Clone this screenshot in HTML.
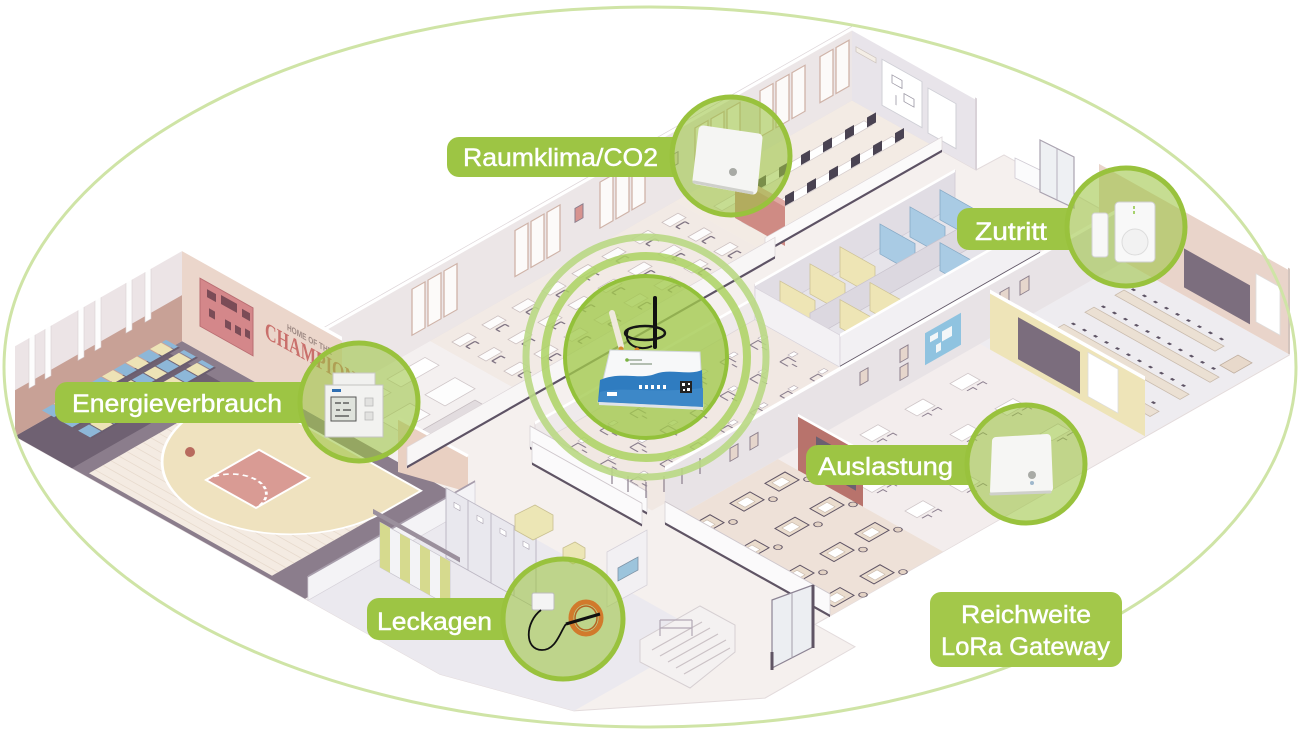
<!DOCTYPE html>
<html><head><meta charset="utf-8"><title>LoRa Gateway Reichweite</title>
<style>
html{margin:0;padding:0;width:1300px;height:732px;overflow:hidden;background:#fff}
body{margin:0;padding:0;width:1300px;height:732px;overflow:hidden;position:relative;background:#fff}
svg{position:absolute;left:0;top:0;display:block;overflow:hidden}
.lb{font-family:"Liberation Sans",Arial,sans-serif;font-size:25px;fill:#fff;stroke:#fff;stroke-width:0.45}
</style></head><body>
<svg width="1300" height="732" viewBox="0 0 1300 732" xmlns="http://www.w3.org/2000/svg">
<defs>
 <pattern id="seat" width="24" height="40" patternUnits="userSpaceOnUse">
  <rect x="0" y="0" width="11" height="40" fill="#8db7d8"/>
  <rect x="12" y="0" width="11" height="40" fill="#ede3b6"/>
 </pattern>
 <g id="dk"><rect x="0" y="0" width="16" height="8" fill="#fdfcfc" stroke="#cbbfbf" stroke-width="0.8"/><path d="M3,11h9M3,11v4M12,11v4" stroke="#7f7382" stroke-width="1.3" fill="none"/></g>
 <g id="ch"><path d="M0,0h8v8M0,0v8M4,8v5" stroke="#8a7e8d" stroke-width="1.1" fill="none"/><rect x="10" y="-2" width="6" height="4" fill="#fff" stroke="#b8adb5" stroke-width="0.6"/></g>
 <g id="ad"><rect x="0" y="0" width="20" height="14" fill="#eadccd" stroke="#5f5465" stroke-width="1"/><rect x="4" y="3" width="10" height="8" fill="#fff" stroke="#c9b9ab" stroke-width="0.6"/><circle cx="25" cy="18" r="3" fill="#e3d2c4" stroke="#5f5465" stroke-width="0.8"/></g>
 <g id="wt"><rect x="0" y="0" width="18" height="12" fill="#fff" stroke="#cfc6c8" stroke-width="0.8"/><path d="M2,15h6v4M12,15h6v4" stroke="#8d8090" stroke-width="1" fill="none"/></g>
</defs>
<rect width="1300" height="732" fill="#fff"/>

<!-- ================= FLOOR (screen coords) ================= -->
<polygon points="15,436.3 182,341.1 307,411.1 852,100.5 976,170 1004,154.9 1135,228.3 1099,248.8 1289,355.2 815,624.4 855,646.8 765,698.1 574,710.9 440,674.3" fill="#f5f0ee" stroke="#e3dbdc" stroke-width="1"/>
<polygon points="308,600.4 475,505.2 707,635.1 574,710.9 440,674.3" fill="#ebe9ef"/>

<!-- gym floor -->
<g transform="matrix(1,-0.57,1,0.56,330,398)">
 <rect x="-190" y="-125" width="167" height="290" fill="#8b7d8c"/>
 <rect x="-186" y="-55" width="149" height="183" fill="#f4ebe2"/>
 <path d="M-180,-55V128M-172,-55V128M-164,-55V128M-156,-55V128M-148,-55V128M-140,-55V128M-132,-55V128M-124,-55V128M-116,-55V128M-108,-55V128M-100,-55V128M-92,-55V128M-84,-55V128M-76,-55V128M-68,-55V128M-60,-55V128M-52,-55V128M-44,-55V128" stroke="#e7dacd" stroke-width="0.8"/>
 <path d="M-37,-55 L-75,-55 A91.5,91.5 0 0 0 -75,128 L-37,128 Z" fill="#efe2bf" stroke="#fff" stroke-width="2"/>
 <rect x="-134" y="10" width="53" height="50" fill="#d99b94" stroke="#fff" stroke-width="2"/>
 <path d="M-134,10 A25,25 0 0 1 -134,60" fill="none" stroke="#fff" stroke-width="2" stroke-dasharray="4,3"/>
 <rect x="-190" y="-125" width="150" height="57" fill="#6f6172"/>
</g>

<!-- rooms floor -->
<g transform="matrix(1,-0.57,1,0.56,330,398)">
 <rect x="-23" y="0" width="123" height="100" fill="#f4f0f0"/>
 <rect x="100" y="0" width="245" height="100" fill="#f2eae5"/>
 <rect x="345" y="0" width="177" height="90" fill="#f3ebe4"/>
 <rect x="60" y="145" width="220" height="117" fill="#f1e8e3"/>
 <rect x="280" y="145" width="200" height="85" fill="#e6e4ea"/>
 <rect x="55" y="280" width="113" height="165" fill="#eee1d8"/>
 <rect x="168" y="280" width="202" height="165" fill="#f3eded"/>
 <rect x="370" y="280" width="144" height="165" fill="#eeecf0"/>
 <!-- library shelves -->
 <rect x="-5" y="12" width="40" height="14" fill="#fff" stroke="#d3cacc" stroke-width="0.8"/>
 <rect x="45" y="12" width="38" height="14" fill="#fff" stroke="#d3cacc" stroke-width="0.8"/>
 <rect x="5" y="45" width="30" height="20" fill="#fdfdfd" stroke="#cfc6c8" stroke-width="0.8"/>
 <rect x="50" y="45" width="30" height="20" fill="#fdfdfd" stroke="#cfc6c8" stroke-width="0.8"/>
 <rect x="10" y="75" width="60" height="10" fill="#e2dcdf" stroke="#c4bbbf" stroke-width="0.8"/>
 <!-- classroom desks -->
 <use href="#dk" x="110" y="12"/><use href="#dk" x="140" y="12"/><use href="#dk" x="170" y="12"/><use href="#dk" x="200" y="12"/><use href="#dk" x="230" y="12"/><use href="#dk" x="260" y="12"/><use href="#dk" x="290" y="12"/><use href="#dk" x="320" y="12"/>
 <use href="#dk" x="110" y="38"/><use href="#dk" x="140" y="38"/><use href="#dk" x="170" y="38"/><use href="#dk" x="200" y="38"/><use href="#dk" x="230" y="38"/><use href="#dk" x="260" y="38"/><use href="#dk" x="290" y="38"/><use href="#dk" x="320" y="38"/>
 <use href="#dk" x="110" y="64"/><use href="#dk" x="140" y="64"/><use href="#dk" x="170" y="64"/><use href="#dk" x="200" y="64"/><use href="#dk" x="230" y="64"/><use href="#dk" x="260" y="64"/><use href="#dk" x="290" y="64"/><use href="#dk" x="320" y="64"/>
 <!-- computer room desks -->
 <rect x="360" y="24" width="150" height="8" fill="#fff" stroke="#d6cdcd" stroke-width="0.8"/>
 <rect x="360" y="52" width="150" height="8" fill="#fff" stroke="#d6cdcd" stroke-width="0.8"/>
 <!-- music room -->
 <use href="#ch" x="75" y="165"/><use href="#ch" x="105" y="165"/><use href="#ch" x="135" y="165"/><use href="#ch" x="165" y="165"/><use href="#ch" x="195" y="165"/><use href="#ch" x="225" y="165"/><use href="#ch" x="255" y="165"/>
 <use href="#ch" x="75" y="195"/><use href="#ch" x="105" y="195"/><use href="#ch" x="135" y="195"/><use href="#ch" x="165" y="195"/><use href="#ch" x="195" y="195"/><use href="#ch" x="225" y="195"/><use href="#ch" x="255" y="195"/>
 <use href="#ch" x="75" y="225"/><use href="#ch" x="105" y="225"/><use href="#ch" x="135" y="225"/><use href="#ch" x="165" y="225"/><use href="#ch" x="195" y="225"/><use href="#ch" x="225" y="225"/><use href="#ch" x="255" y="225"/>
 <!-- art room -->
 <use href="#ad" x="65" y="295"/><use href="#ad" x="105" y="295"/><use href="#ad" x="140" y="295"/>
 <use href="#ad" x="65" y="340"/><use href="#ad" x="105" y="340"/><use href="#ad" x="140" y="340"/>
 <use href="#ad" x="65" y="385"/><use href="#ad" x="105" y="385"/><use href="#ad" x="140" y="385"/>
 <use href="#ad" x="65" y="425"/><use href="#ad" x="105" y="425"/>
 <!-- middle room -->
 <use href="#wt" x="185" y="300"/><use href="#wt" x="230" y="300"/><use href="#wt" x="275" y="300"/><use href="#wt" x="320" y="300"/>
 <use href="#wt" x="185" y="345"/><use href="#wt" x="230" y="345"/><use href="#wt" x="275" y="345"/><use href="#wt" x="320" y="345"/>
 <use href="#wt" x="185" y="390"/><use href="#wt" x="230" y="390"/><use href="#wt" x="275" y="390"/><use href="#wt" x="320" y="390"/>
 <!-- right classroom tables -->
 <rect x="390" y="305" width="9" height="125" fill="#ebe0d3" stroke="#c9bbad" stroke-width="0.8"/>
 <rect x="420" y="305" width="9" height="125" fill="#ebe0d3" stroke="#c9bbad" stroke-width="0.8"/>
 <rect x="450" y="305" width="9" height="125" fill="#ebe0d3" stroke="#c9bbad" stroke-width="0.8"/>
 <rect x="480" y="305" width="9" height="100" fill="#ebe0d3" stroke="#c9bbad" stroke-width="0.8"/>
 <path d="M404,308V428M434,308V428M464,308V428M494,308V405" stroke="#5e5465" stroke-width="2.2" stroke-dasharray="3,8"/>
 <rect x="470" y="420" width="18" height="14" fill="#e8d9cb" stroke="#bfae9f" stroke-width="0.8"/>
</g>

<!-- ================= WALLS ================= -->
<!-- gym back wall -->
<g transform="matrix(1,-0.57,0,1,205,328)">
 <rect x="-190" y="-92" width="167" height="92" fill="#c8a196"/>
 <rect x="-190" y="-92" width="167" height="46" fill="#ece4e6"/>
 <g fill="#fdfdfd" stroke="#d9d0d3" stroke-width="0.6">
  <rect x="-176" y="-92" width="6" height="52"/><rect x="-160" y="-92" width="6" height="52"/>
  <rect x="-127" y="-92" width="6" height="52"/><rect x="-110" y="-92" width="6" height="52"/>
  <rect x="-79" y="-92" width="6" height="52"/><rect x="-60" y="-92" width="6" height="52"/>
 </g>
 <line x1="-190" y1="-92" x2="-23" y2="-92" stroke="#fff" stroke-width="4"/>
</g>
<!-- raised bleacher seats -->
<g transform="translate(0,-16)">
 <g transform="matrix(1,-0.57,1,0.56,330,398)">
  <rect x="-168" y="-120" width="124" height="13" fill="url(#seat)"/>
  <rect x="-168" y="-102" width="124" height="13" fill="url(#seat)"/>
  <rect x="-168" y="-84" width="124" height="13" fill="url(#seat)"/>
  <path d="M-168,-107H-44M-168,-89H-44M-168,-71H-44" stroke="#6a5d6f" stroke-width="2"/>
 </g>
</g>
<g transform="matrix(1,-0.57,0,1,330,398)">
 <!-- long back wall -->
 <rect x="-23" y="-72" width="545" height="72" fill="#ece6e7"/>
 <g fill="#fcfaf9" stroke="#cfb3a8" stroke-width="1.3">
  <rect x="82" y="-62" width="13" height="46"/><rect x="98" y="-62" width="13" height="46"/><rect x="114" y="-62" width="13" height="46"/>
  <rect x="185" y="-62" width="13" height="46"/><rect x="201" y="-62" width="13" height="46"/><rect x="217" y="-62" width="13" height="46"/>
  <rect x="270" y="-62" width="13" height="46"/><rect x="286" y="-62" width="13" height="46"/><rect x="302" y="-62" width="13" height="46"/>
  <rect x="365" y="-62" width="13" height="46"/><rect x="381" y="-62" width="13" height="46"/><rect x="397" y="-62" width="13" height="46"/>
  <rect x="430" y="-62" width="13" height="46"/><rect x="446" y="-62" width="13" height="46"/><rect x="462" y="-62" width="13" height="46"/>
  <rect x="490" y="-62" width="13" height="46"/><rect x="506" y="-62" width="13" height="46"/>
 </g>
 <rect x="245" y="-50" width="8" height="14" fill="#d7938f" stroke="#8a7d8c" stroke-width="1"/>
 <rect x="340" y="-48" width="8" height="12" fill="#e3d6c8" stroke="#8a7d8c" stroke-width="1"/>
 <line x1="-23" y1="-72" x2="522" y2="-72" stroke="#fff" stroke-width="4"/>
 <line x1="-23" y1="-74" x2="522" y2="-74" stroke="#ddd5d8" stroke-width="0.8"/>
</g>
<!-- gym right wall -->
<g transform="matrix(1,0.56,0,1,307,411.11)">
 <rect x="-125" y="-92" width="160" height="92" fill="#ebd6cb"/>
 <rect x="-107" y="-73" width="53" height="48" fill="#d4878a" stroke="#b96d72" stroke-width="1"/>
 <g fill="#7b4c57"><rect x="-100" y="-66" width="9" height="8"/><rect x="-86" y="-68" width="16" height="9"/><rect x="-65" y="-66" width="8" height="8"/><rect x="-98" y="-48" width="6" height="8"/><rect x="-82" y="-46" width="6" height="8"/><rect x="-72" y="-46" width="6" height="8"/><rect x="-62" y="-48" width="5" height="8"/></g>
 <text x="-20" y="-70" font-family="Liberation Sans,sans-serif" font-weight="bold" font-size="9" fill="#9e8a84" textLength="45" lengthAdjust="spacingAndGlyphs">HOME OF THE</text>
 <text x="-42" y="-50" font-family="Liberation Serif,serif" font-weight="bold" font-size="24" fill="#c96f6b" textLength="100" lengthAdjust="spacingAndGlyphs">CHAMPIONS</text>
 <line x1="-125" y1="-92" x2="35" y2="-92" stroke="#fff" stroke-width="4"/>
</g>
<!-- lobby beige wall right of gym -->
<polygon points="398,418 468,456 468,492 398,472" fill="#e9d0c2"/>
<line x1="398" y1="418" x2="468" y2="456" stroke="#fff" stroke-width="3"/>
<!-- computer room right wall -->
<g transform="matrix(1,0.56,0,1,852,100.46)">
 <rect x="0" y="-72" width="124" height="72" fill="#e8e4ea"/>
 <rect x="30" y="-58" width="40" height="46" fill="#fff" stroke="#cfcfd6" stroke-width="1"/>
 <path d="M40,-48h10v8h-10zM52,-36h10v8h-10zM44,-30v10" stroke="#9a96a3" stroke-width="0.8" fill="none"/>
 <rect x="76" y="-55" width="28" height="45" fill="#fff" stroke="#cfcfd6" stroke-width="1"/>
 <rect x="4" y="-56" width="20" height="5" fill="#f4eee6" stroke="#cfc6c0" stroke-width="0.8"/>
 <line x1="0" y1="-72" x2="124" y2="-72" stroke="#fff" stroke-width="4"/>
 <line x1="124" y1="-72" x2="124" y2="0" stroke="#d9d2d8" stroke-width="2"/>
</g>
<!-- monitors -->
<g transform="matrix(1,-0.57,0,1,365,417.6)" fill="#4a4352">
 <rect x="370" y="-14" width="9" height="10"/><rect x="392" y="-14" width="9" height="10"/><rect x="414" y="-14" width="9" height="10"/><rect x="436" y="-14" width="9" height="10"/><rect x="458" y="-14" width="9" height="10"/><rect x="480" y="-14" width="9" height="10"/><rect x="502" y="-14" width="9" height="10"/>
</g>
<g transform="matrix(1,-0.57,0,1,393,433.28)" fill="#4a4352">
 <rect x="370" y="-14" width="9" height="10"/><rect x="392" y="-14" width="9" height="10"/><rect x="414" y="-14" width="9" height="10"/><rect x="436" y="-14" width="9" height="10"/><rect x="458" y="-14" width="9" height="10"/><rect x="480" y="-14" width="9" height="10"/><rect x="502" y="-14" width="9" height="10"/>
</g>
<!-- pink partition -->
<g transform="matrix(1,0.56,0,1,690,192.8)">
 <rect x="45" y="-45" width="50" height="45" fill="#cf8b84"/>
 <rect x="45" y="-45" width="50" height="6" fill="#e0a9a2"/>
</g>
<!-- computer room front wall -->
<g transform="matrix(1,-0.57,0,1,420,448.4)">
 <rect x="345" y="-14" width="177" height="14" fill="#fbfafa" stroke="#ddd6d9" stroke-width="0.8"/>
 <line x1="345" y1="0" x2="522" y2="0" stroke="#5d5264" stroke-width="2.5"/>
</g>
<!-- classroom 1 front wall -->
<g transform="matrix(1,-0.57,0,1,430,454)">
 <rect x="-23" y="-20" width="368" height="20" fill="#f8f6f6" stroke="#ddd6d9" stroke-width="0.8"/>
 <line x1="-23" y1="0" x2="345" y2="0" stroke="#5e5365" stroke-width="2.5"/>
</g>
<!-- music + toilet back walls -->
<g transform="matrix(1,-0.57,0,1,475,479.2)">
 <rect x="60" y="-22" width="220" height="22" fill="#efeaeb" stroke="#dcd4d7" stroke-width="0.8"/>
 <rect x="280" y="-35" width="200" height="35" fill="#e1dde4" stroke="#cfc9d3" stroke-width="0.8"/>
 <line x1="60" y1="-22" x2="280" y2="-22" stroke="#fff" stroke-width="3"/>
 <line x1="280" y1="-35" x2="480" y2="-35" stroke="#fff" stroke-width="3"/>
</g>
<!-- toilet stalls -->
<g transform="matrix(1,0.56,0,1,630,227)"><rect x="150" y="-30" width="35" height="30" fill="#eee5b5" stroke="#cdc296" stroke-width="0.8"/></g>
<g transform="matrix(1,0.56,0,1,660,209.9)"><rect x="150" y="-30" width="35" height="30" fill="#eee5b5" stroke="#cdc296" stroke-width="0.8"/></g>
<g transform="matrix(1,0.56,0,1,690,192.8)"><rect x="150" y="-30" width="35" height="30" fill="#eee5b5" stroke="#cdc296" stroke-width="0.8"/></g>
<g transform="matrix(1,0.56,0,1,730,170)"><rect x="150" y="-30" width="35" height="30" fill="#a9cbe4" stroke="#86a9c5" stroke-width="0.8"/></g>
<g transform="matrix(1,0.56,0,1,760,152.9)"><rect x="150" y="-30" width="35" height="30" fill="#a9cbe4" stroke="#86a9c5" stroke-width="0.8"/></g>
<g transform="matrix(1,0.56,0,1,790,135.8)"><rect x="150" y="-30" width="35" height="30" fill="#a9cbe4" stroke="#86a9c5" stroke-width="0.8"/></g>
<g transform="matrix(1,-0.57,0,1,520,504.4)">
 <rect x="290" y="-26" width="180" height="26" fill="#dcd8e0" stroke="#c8c2cc" stroke-width="0.8"/>
</g>
<g transform="matrix(1,0.56,0,1,645,218.45)"><rect x="195" y="-28" width="32" height="28" fill="#eee5b5" stroke="#cdc296" stroke-width="0.8"/></g>
<g transform="matrix(1,0.56,0,1,675,201.35)"><rect x="195" y="-28" width="32" height="28" fill="#eee5b5" stroke="#cdc296" stroke-width="0.8"/></g>
<g transform="matrix(1,0.56,0,1,745,161.45)"><rect x="195" y="-28" width="32" height="28" fill="#a9cbe4" stroke="#86a9c5" stroke-width="0.8"/></g>
<!-- toilet left + front walls -->
<g transform="matrix(1,0.56,0,1,610,238.4)">
 <rect x="145" y="-32" width="85" height="32" fill="#f3f1f4" stroke="#d7d2da" stroke-width="0.8"/>
</g>
<g transform="matrix(1,-0.57,0,1,560,526.8)">
 <rect x="280" y="-32" width="200" height="32" fill="#f2f0f3" stroke="#d7d2da" stroke-width="0.8"/>
 <line x1="280" y1="0" x2="480" y2="0" stroke="#5f5464" stroke-width="3"/>
 <line x1="280" y1="-32" x2="480" y2="-32" stroke="#fff" stroke-width="3"/>
</g>
<!-- music room left wall -->
<g transform="matrix(1,0.56,0,1,385,366.65)">
 <rect x="145" y="-22" width="117" height="22" fill="#fbfafb" stroke="#d8d2d6" stroke-width="0.8"/>
 <line x1="145" y1="0" x2="262" y2="0" stroke="#5f5464" stroke-width="2.5"/>
 <line x1="145" y1="-22" x2="262" y2="-22" stroke="#cfc8cd" stroke-width="1"/>
</g>
<!-- right classroom back wall -->
<g transform="matrix(1,0.56,0,1,844,105.02)">
 <rect x="255" y="-86" width="190" height="86" fill="#e9d4ca"/>
 <rect x="340" y="-47" width="66" height="39" fill="#7c6e7e"/>
 <rect x="412" y="-62" width="24" height="48" fill="#fff" stroke="#ddd" stroke-width="0.8"/>
 <line x1="255" y1="-86" x2="445" y2="-86" stroke="#fff" stroke-width="4"/>
 <line x1="445" y1="-86" x2="445" y2="0" stroke="#d3c4bd" stroke-width="2"/>
</g>
<!-- corridor wall with map -->
<g transform="matrix(1,-0.57,0,1,610,554.8)">
 <rect x="55" y="-55" width="459" height="55" fill="#e8e3e6"/>
 <rect x="315" y="-42" width="36" height="32" fill="#8fc3e0"/>
 <path d="M320,-36h8v6h-8zM332,-34h10v10h-10zM326,-24h5v8h-5z" fill="#f2f6f8"/>
 <g fill="#e6d6cc" stroke="#8c7f8c" stroke-width="1">
  <rect x="120" y="-38" width="8" height="13"/><rect x="140" y="-38" width="8" height="13"/><rect x="250" y="-40" width="8" height="13"/><rect x="290" y="-40" width="8" height="13"/><rect x="290" y="-22" width="8" height="13"/><rect x="390" y="-40" width="9" height="14"/><rect x="410" y="-40" width="9" height="14"/>
 </g>
 <line x1="55" y1="-55" x2="514" y2="-55" stroke="#fff" stroke-width="4"/>
</g>
<!-- yellow wall -->
<g transform="matrix(1,0.56,0,1,700,187.1)">
 <rect x="290" y="-58" width="155" height="58" fill="#eee4b8"/>
 <rect x="318" y="-48" width="62" height="42" fill="#7b6d7d"/>
 <rect x="388" y="-52" width="30" height="44" fill="#fff" stroke="#ddd" stroke-width="0.8"/>
 <line x1="290" y1="-58" x2="445" y2="-58" stroke="#fff" stroke-width="4"/>
</g>
<!-- red art wall -->
<g transform="matrix(1,0.56,0,1,498,302.24)">
 <rect x="300" y="-55" width="65" height="55" fill="#b8736c"/>
 <rect x="318" y="-44" width="40" height="32" fill="#6c6070"/>
 <path d="M325,-38l10,8l8,-6M330,-22h20" stroke="#e8e1e6" stroke-width="1" fill="none"/>
 <line x1="300" y1="-55" x2="365" y2="-55" stroke="#fff" stroke-width="3"/>
</g>
<!-- left corridor walls -->
<g transform="matrix(1,0.56,0,1,372,374.06)">
 <rect x="160" y="-22" width="110" height="22" fill="#fbfafb" stroke="#d8d2d6" stroke-width="0.8"/>
 <line x1="160" y1="0" x2="270" y2="0" stroke="#5f5464" stroke-width="2.5"/>
 <line x1="160" y1="-22" x2="270" y2="-22" stroke="#cfc8cd" stroke-width="1"/>
</g>
<g transform="matrix(1,0.56,0,1,385,366.65)">
 <rect x="280" y="-22" width="165" height="22" fill="#fbfafb" stroke="#d8d2d6" stroke-width="0.8"/>
 <line x1="280" y1="0" x2="445" y2="0" stroke="#5f5464" stroke-width="2.5"/>
 <line x1="280" y1="-22" x2="445" y2="-22" stroke="#cfc8cd" stroke-width="1"/>
</g>
<!-- gym / lockers wall -->
<g transform="matrix(1,-0.57,0,1,498,492.08)">
 <rect x="-190" y="-24" width="167" height="24" fill="#f4f3f6" stroke="#d6d2da" stroke-width="0.8"/>
 <line x1="-190" y1="-24" x2="-23" y2="-24" stroke="#a79dab" stroke-width="2"/>
</g>
<!-- showers -->
<g transform="matrix(1,0.56,0,1,246,445.88)">
 <rect x="200" y="-70" width="90" height="70" fill="#e9e8ee" stroke="#bdb8c4" stroke-width="1"/>
 <path d="M222,-70V0M245,-70V0M268,-70V0" stroke="#bdb8c4" stroke-width="1"/>
 <path d="M208,-60h6v5h-6zM231,-60h6v5h-6zM254,-60h6v5h-6zM277,-60h6v5h-6z" fill="#fff" stroke="#aaa3b0" stroke-width="0.6"/>
</g>
<!-- lockers -->
<g transform="matrix(1,0.56,0,1,205,469.25)">
 <rect x="175" y="-45" width="70" height="45" fill="#f3f3f6" stroke="#c9c6cf" stroke-width="0.8"/>
 <rect x="175" y="-45" width="10" height="45" fill="#d6da8e"/><rect x="195" y="-45" width="10" height="45" fill="#d6da8e"/><rect x="215" y="-45" width="10" height="45" fill="#d6da8e"/><rect x="235" y="-45" width="10" height="45" fill="#d6da8e"/>
 <line x1="168" y1="-52" x2="255" y2="-52" stroke="#9b909d" stroke-width="5"/>
</g>
<!-- white wall with picture near Leckagen -->
<polygon points="607,552 647,530 647,585 607,607" fill="#f2f0f3" stroke="#d6d1d9" stroke-width="0.8"/>
<polygon points="618,568 638,557 638,570 618,581" fill="#9cc4dc" stroke="#7f93a6" stroke-width="0.8"/>
<!-- armchairs -->
<polygon points="515,515 535,505 553,515 553,530 533,540 515,530" fill="#ece6b5" stroke="#c9c091" stroke-width="0.8"/>
<polygon points="563,548 575,542 585,548 585,558 573,564 563,558" fill="#ece6b5" stroke="#c9c091" stroke-width="0.8"/>
<!-- stairs -->
<polygon points="640,640 700,606 735,625 735,652 690,688 640,662" fill="#f4f1f1" stroke="#d6cfd2" stroke-width="1"/>
<path d="M652,650l50,-28M660,656l50,-28M668,662l50,-28M676,668l50,-28M684,674l46,-26" stroke="#cbc2c6" stroke-width="1.2"/>
<path d="M660,620h32M660,628h32M660,620v16M692,620v16" stroke="#b2a8b5" stroke-width="1.2" fill="none"/>
<!-- bottom door -->
<polygon points="772,600 813,585 813,647 772,668" fill="#eceef2" stroke="#8d8494" stroke-width="1.2"/>
<line x1="792" y1="593" x2="792" y2="658" stroke="#a59dab" stroke-width="1"/>
<line x1="772" y1="652" x2="772" y2="670" stroke="#5f5464" stroke-width="3"/>
<line x1="813" y1="585" x2="813" y2="648" stroke="#5f5464" stroke-width="3"/>
<!-- top-right door -->
<polygon points="1015,158 1040,170 1040,190 1015,178" fill="#fbfbfc" stroke="#cfcad3" stroke-width="0.8"/>
<polygon points="1040,140 1074,157 1074,208 1040,192" fill="#eef0f3" stroke="#aaa3b0" stroke-width="1.2"/>
<line x1="1057" y1="149" x2="1057" y2="200" stroke="#b7b0bc" stroke-width="1"/>
<!-- music stands below gateway -->
<path d="M612,468v16M628,476v16M646,482v16M664,476v16M682,468v16M700,458v16" stroke="#8a7e8d" stroke-width="1.2"/>
<!-- ball -->
<circle cx="190" cy="452" r="5" fill="#b86b5e"/>

<!-- ================= ELLIPSE ================= -->
<ellipse cx="650" cy="367" rx="646" ry="360" fill="none" stroke="#cfe4a6" stroke-width="3"/>

<!-- ================= GATEWAY ================= -->
<circle cx="646" cy="357" r="120" fill="none" stroke="#b9d884" stroke-width="7" opacity="0.9"/>
<circle cx="646" cy="357" r="101" fill="none" stroke="#acd262" stroke-width="8" opacity="0.85"/>
<circle cx="646" cy="357" r="81" fill="#a2c94c" fill-opacity="0.78" stroke="#93c13a" stroke-width="4"/>
<g>
 <line x1="655" y1="298" x2="655" y2="347" stroke="#111" stroke-width="4" stroke-linecap="round"/>
 <ellipse cx="645" cy="333" rx="20" ry="7" fill="none" stroke="#151515" stroke-width="2.5"/>
 <path d="M628,330 C622,345 640,352 652,346" stroke="#151515" stroke-width="2" fill="none"/>
 <line x1="612" y1="313" x2="621" y2="346" stroke="#efe9dc" stroke-width="6" stroke-linecap="round"/>
 <circle cx="621" cy="349" r="2.5" fill="#d9892b"/><circle cx="637" cy="350" r="2.5" fill="#d9892b"/>
 <polygon points="610,350 700,352 703,407 598,402" fill="#f7f8f9" stroke="#d2d7dc" stroke-width="1"/>
 <path d="M600,380 C620,371 640,380 655,374 C670,368 688,376 702,370 L703,407 L598,402 Z" fill="#2f7cc0"/>
 <path d="M600,392 C625,386 650,394 703,388 L703,407 L598,402 Z" fill="#3d88c8"/>
 <path d="M599,402 L703,407 L703,410 L599,405 Z" fill="#dfe3e8"/>
 <g fill="#fff"><rect x="639" y="385" width="3" height="4"/><rect x="645" y="385" width="3" height="4"/><rect x="651" y="385" width="3" height="4"/><rect x="657" y="385" width="3" height="4"/><rect x="663" y="385" width="3" height="4"/><rect x="607" y="392" width="10" height="4"/></g>
 <rect x="680" y="381" width="12" height="12" fill="#222"/>
 <path d="M682,383h3v3h-3zM688,383h2v2h-2zM683,389h2v2h-2zM687,388h3v3h-3z" fill="#fff"/>
 <path d="M628,360h14M630,364h22" stroke="#8a9a86" stroke-width="1.2"/>
 <circle cx="627" cy="360" r="1.8" fill="#7bb342"/>
</g>

<!-- ================= LABELS ================= -->
<!-- Raumklima -->
<path d="M459,137H674V177H459A12,12 0 0 1 447,165V149A12,12 0 0 1 459,137Z" fill="#9dc544"/>
<circle cx="731" cy="156" r="59" fill="#9dc544" fill-opacity="0.58" stroke="#99c23d" stroke-width="5"/>
<polygon points="703,130 758,138 753,190 697,180" fill="#f5f5f3" stroke="#f5f5f3" stroke-width="9" stroke-linejoin="round"/>
<path d="M694,182 L752,193" stroke="#cfd0cb" stroke-width="3" stroke-linecap="round"/>
<circle cx="733" cy="172" r="4" fill="#a8aaa5"/>
<text class="lb" x="463" y="166" textLength="195" lengthAdjust="spacingAndGlyphs">Raumklima/CO2</text>

<!-- Energieverbrauch -->
<path d="M67,382H302V423H67A12,12 0 0 1 55,411V394A12,12 0 0 1 67,382Z" fill="#9dc544"/>
<circle cx="359" cy="402" r="59" fill="#9dc544" fill-opacity="0.58" stroke="#99c23d" stroke-width="5"/>
<rect x="333" y="373" width="42" height="14" fill="#f1f1ef" stroke="#c9c9c6" stroke-width="1"/>
<rect x="325" y="385" width="58" height="52" fill="#f2f2f0" stroke="#c4c4c1" stroke-width="1"/>
<rect x="331" y="397" width="25" height="24" fill="#dfe3dc" stroke="#555" stroke-width="1"/>
<path d="M335,403h6M343,403h6M336,410h4M343,410h8M335,416h14" stroke="#444" stroke-width="1.2"/>
<rect x="332" y="389" width="9" height="3" fill="#2f6fb2"/>
<rect x="365" y="398" width="8" height="8" fill="#e2e2e0" stroke="#bbb" stroke-width="0.8"/>
<rect x="365" y="412" width="8" height="8" fill="#e2e2e0" stroke="#bbb" stroke-width="0.8"/>
<text class="lb" x="72" y="412" textLength="210" lengthAdjust="spacingAndGlyphs">Energieverbrauch</text>

<!-- Zutritt -->
<path d="M969,208H1069V250H969A12,12 0 0 1 957,238V220A12,12 0 0 1 969,208Z" fill="#9dc544"/>
<circle cx="1126" cy="227" r="59" fill="#9dc544" fill-opacity="0.58" stroke="#99c23d" stroke-width="5"/>
<rect x="1092" y="213" width="16" height="44" rx="3" fill="#f7f7f7" stroke="#d2d2d2" stroke-width="1"/>
<rect x="1115" y="202" width="40" height="60" rx="4" fill="#f8f8f8" stroke="#cfcfcf" stroke-width="1"/>
<circle cx="1135" cy="242" r="13" fill="#f2f2f2" stroke="#dcdcdc" stroke-width="1"/>
<path d="M1134,206v3M1134,211v3" stroke="#8cc63f" stroke-width="1.5"/>
<text class="lb" x="975" y="240" textLength="72" lengthAdjust="spacingAndGlyphs">Zutritt</text>

<!-- Auslastung -->
<path d="M818,445H969V485H818A12,12 0 0 1 806,473V457A12,12 0 0 1 818,445Z" fill="#9dc544"/>
<circle cx="1026" cy="464" r="59" fill="#9dc544" fill-opacity="0.58" stroke="#99c23d" stroke-width="5"/>
<polygon points="996,441 1047,438 1049,488 994,491" fill="#f6f6f4" stroke="#f6f6f4" stroke-width="8" stroke-linejoin="round"/>
<path d="M991,494 L1050,492" stroke="#cfd0cb" stroke-width="3" stroke-linecap="round"/>
<circle cx="1032" cy="475" r="4" fill="#a9aba6"/>
<circle cx="1032" cy="483" r="2" fill="#9fb8cc"/>
<text class="lb" x="818" y="475" textLength="135" lengthAdjust="spacingAndGlyphs">Auslastung</text>

<!-- Leckagen -->
<path d="M379,598H505V640H379A12,12 0 0 1 367,628V610A12,12 0 0 1 379,598Z" fill="#9dc544"/>
<circle cx="563" cy="619" r="60" fill="#9dc544" fill-opacity="0.58" stroke="#99c23d" stroke-width="5"/>
<rect x="532" y="593" width="22" height="17" rx="2" fill="#f4f4f4" stroke="#bdbdbd" stroke-width="1"/>
<path d="M541,610 C525,622 524,650 542,650 C556,650 560,632 566,624" stroke="#111" stroke-width="1.8" fill="none"/>
<ellipse cx="586" cy="618" rx="15" ry="16" fill="none" stroke="#d17a2c" stroke-width="5"/>
<ellipse cx="586" cy="618" rx="11" ry="12" fill="none" stroke="#b66322" stroke-width="1.5"/>
<line x1="566" y1="624" x2="600" y2="614" stroke="#111" stroke-width="3"/>
<text class="lb" x="377" y="630" textLength="115" lengthAdjust="spacingAndGlyphs">Leckagen</text>

<!-- Reichweite -->
<rect x="930" y="592" width="192" height="75" rx="11" fill="#a3c84a"/>
<text class="lb" x="961" y="623" textLength="130" lengthAdjust="spacingAndGlyphs">Reichweite</text>
<text class="lb" x="941" y="655" textLength="169" lengthAdjust="spacingAndGlyphs">LoRa Gateway</text>
</svg>
</body></html>
